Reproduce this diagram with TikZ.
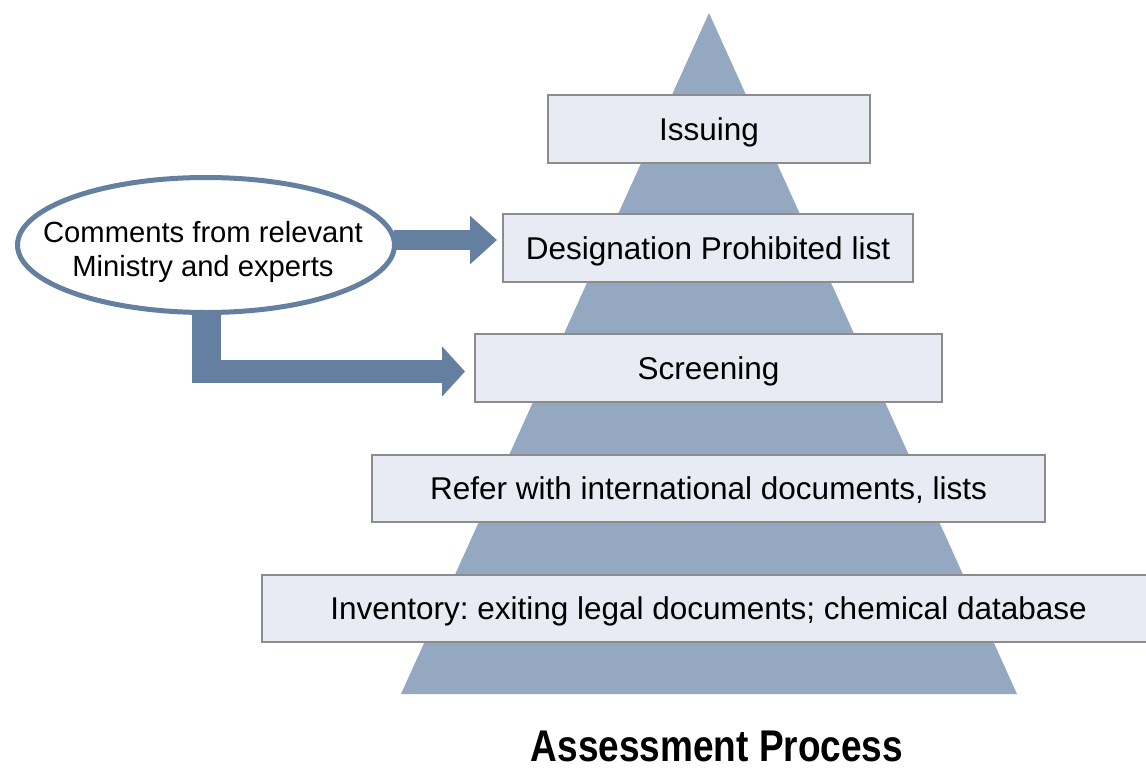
\documentclass[tikz,border=0pt]{standalone}
\usepackage{fontspec}
\setmainfont{Liberation Sans}
\usetikzlibrary{shapes.geometric,arrows.meta,calc}
\definecolor{pyr}{RGB}{149,168,194}
\definecolor{arrc}{RGB}{100,127,159}
\definecolor{boxfill}{RGB}{232,235,243}
\definecolor{boxline}{RGB}{140,140,140}
\tikzset{
  stagebox/.style={draw=boxline, line width=2pt, fill=boxfill, inner sep=0pt,
    font=\fontsize{31.5}{38}\selectfont\frenchspacing, text height=22.6pt, text depth=0pt},
  blockarrow/.style={draw=arrc, line width=#1},
}
\begin{document}
\frenchspacing
\begin{tikzpicture}[x=1pt,y=-1pt]
\useasboundingbox (0,0) rectangle (1146,769);
% pyramid
\fill[pyr] (401,694) -- (1017,694) -- (709,13) -- cycle;
% stages
\node[stagebox, minimum width=322pt, minimum height=68pt] (iss) at (709,129) {Issuing};
\node[stagebox, minimum width=410pt, minimum height=68pt] (des) at (708,248) {Designation Prohibited list};
\node[stagebox, minimum width=467pt, minimum height=68pt] (scr) at (708.5,368) {Screening};
\node[stagebox, minimum width=673pt, minimum height=67pt] (ref) at (708.5,488.5) {Refer with international documents, lists};
\node[stagebox, minimum width=893pt, minimum height=67pt] (inv) at (708.5,608.5) {Inventory: exiting legal documents; chemical database};
% ellipse
\node[ellipse, draw=arrc, line width=5pt, fill=white, minimum width=377pt, minimum height=135pt, inner sep=0pt] (ell) at (206,245) {};
\node[align=center, font=\fontsize{29.2}{34}\selectfont, inner sep=0pt] (elltxt) at ($(ell.center)+(-3,7)$) {Comments from relevant\\Ministry and experts};
% arrows
\draw[blockarrow=20pt, -{Triangle[length=27pt, width=47pt]}, shorten >=5pt]
  ($(ell.east)+(-3,-5)$) -- ($(des.west)+(0,-8)$);
\fill[arrc] ($(ell.south)+(-14.5,-3)$) rectangle ($(ell.south)+(14.5,68)$);
\draw[blockarrow=23pt, -{Triangle[length=23pt, width=49pt]}, shorten >=9pt]
  ($(ell.south)+(-14.5,56.5)$) -- ($(scr.west)+(0,3.5)$);
% title
\node[font=\bfseries\fontsize{37}{44}\selectfont, inner sep=0pt, anchor=base] (title) at (717,761) {\scalebox{1}[1.2]{Assessment Process}};
\end{tikzpicture}
\end{document}
